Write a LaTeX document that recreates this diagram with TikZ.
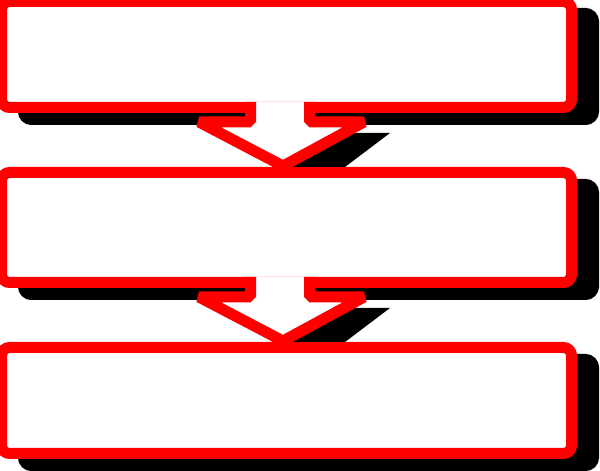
\documentclass[tikz,border=0pt]{standalone}
\usetikzlibrary{positioning,calc}
\begin{document}
\begin{tikzpicture}[x=1pt,y=1pt]
\tikzstyle{box}=[draw=red,fill=white,line width=11pt,rounded corners=8pt,minimum width=570pt,
  preaction={draw=black,fill=black,line width=11pt,transform canvas={shift={(22pt,-12pt)}}}];
\tikzstyle{blockarrow}=[draw=red,fill=white,line width=11pt,line join=bevel];
\tikzstyle{arrowshadow}=[fill=black];
\useasboundingbox (0,0) rectangle (600,471);
\node [box,minimum height=106pt] (box1) at (286.5,416.5) {};
\node [box,minimum height=110pt,below=54pt of box1] (box2) {};
\node [box,minimum height=106pt,below=54pt of box2] (box3) {};
\foreach \a/\b in {box1/box2,box2/box3}{
  \fill[arrowshadow] ($(\a.south)+(48.5,-20)$) -- ($(\a.south)+(103.5,-20)$)
    -- ($(\b.north)+(58.5,0)$) -- ($(\b.north)+(5.5,0)$) -- cycle;
  \draw[blockarrow] ($(\a.south)+(-36,11)$) -- ++(0,-20) -- ($(\a.south)+(-87.5,-9)$)
    -- ($(\b.north)+(-3.5,1)$) -- ($(\a.south)+(77.5,-9)$) -- ($(\a.south)+(23,-9)$) -- ++(0,20);
}
\end{tikzpicture}
\end{document}
